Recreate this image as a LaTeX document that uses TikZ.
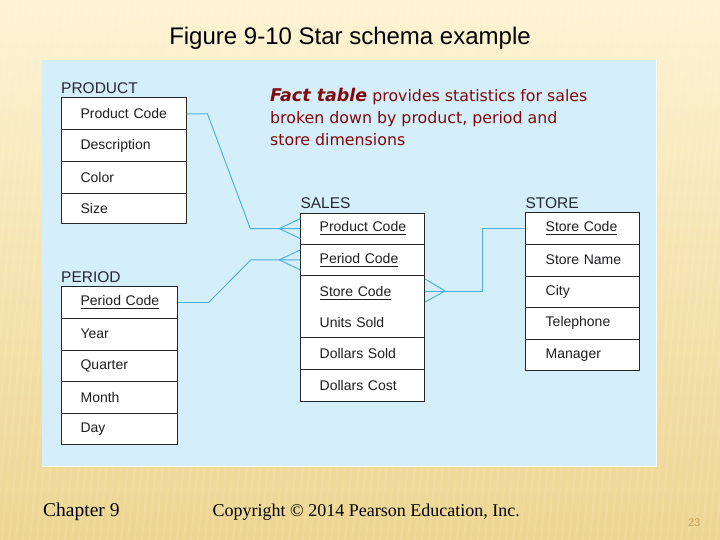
\documentclass[tikz,border=0pt]{standalone}
\usepackage{fontspec}
\setmainfont{Liberation Serif}
\setsansfont{Liberation Sans}
\newfontfamily\factfont{DejaVu Sans}
\usetikzlibrary{calc}
\definecolor{bgtop}{RGB}{253,244,212}
\definecolor{bgmid}{RGB}{245,228,176}
\definecolor{bgbot}{RGB}{237,214,146}
\definecolor{panelblue}{RGB}{212,238,250}
\definecolor{linkblue}{RGB}{78,175,212}
\definecolor{factred}{RGB}{130,8,12}
\definecolor{hdrgray}{RGB}{38,40,50}
\definecolor{celltext}{RGB}{30,30,34}
\definecolor{pagenum}{RGB}{196,156,80}
\newcommand\keyul[1]{\setbox0\hbox{#1}\rlap{\rule[-3.4pt]{\wd0}{0.9pt}}\box0}
\begin{document}
\begin{tikzpicture}[x=1pt,y=-1pt,
  tabcell/.style={draw=black!85, line width=0.8pt, fill=white, anchor=north west,
    inner sep=0pt, text width=#1, align=left,
    font=\sffamily\fontsize{14}{16}\selectfont, text=celltext},
  tabhead/.style={anchor=base west, inner sep=0pt,
    font=\sffamily\fontsize{15.5}{17}\selectfont, text=hdrgray},
  factline/.style={anchor=base west, inner sep=0pt,
    font=\factfont\fontsize{15.8}{18}\selectfont, text=factred},
  link/.style={draw=linkblue, line width=0.95pt},
  foot/.style={anchor=base west, inner sep=0pt, text=black}]
\useasboundingbox (0,0) rectangle (720,540);
% background
\shade[top color=bgtop, bottom color=bgbot, middle color=bgmid] (0,0) rectangle (720,540);
\begin{scope}
\clip (0,0) rectangle (720,540);
\foreach \i in {-40,-33,...,760} {
  \draw[white, opacity=0.10, line width=2pt] (\i,540) -- (\i+50,0);
}
\end{scope}
% panel
\fill[panelblue] (42,60) rectangle (657,467);
\draw[white, line width=1.2pt] (42,466.4) -- (656.4,466.4) -- (656.4,60);
% title
\node[anchor=base, inner sep=0pt, font=\sffamily\fontsize{24}{27}\selectfont, text=black] (title) at (350,45) {Figure 9-10 Star schema example};
% fact text
\node[factline] (fact1) at (270,102) {{\bfseries\itshape\fontsize{17.5}{18}\selectfont Fact table} provides statistics for sales};
\node[factline] (fact2) at (270,124) {broken down by product, period and};
\node[factline] (fact3) at (270,145.5) {store dimensions};
% PRODUCT
\node[tabhead] (prod) at (61,94) {PRODUCT};
\node[tabcell=125pt, minimum height=32pt] (pr1) at (60.7,97.5) {\hspace*{19.5pt}Product Code};
\node[tabcell=125pt, minimum height=32pt] (pr2) at (60.7,129.5) {\hspace*{19.5pt}Description};
\node[tabcell=125pt, minimum height=32pt] (pr3) at (60.7,161.5) {\hspace*{19.5pt}Color};
\node[tabcell=125pt, minimum height=30pt] (pr4) at (60.7,193.5) {\hspace*{19.5pt}Size};
% PERIOD
\node[tabhead] (per) at (61,282) {PERIOD};
\node[tabcell=116.6pt, minimum height=31.6pt] (pe1) at (60.7,286.3) {\hspace*{19.5pt}\keyul{Period Code}};
\node[tabcell=116.6pt, minimum height=31.6pt] (pe2) at (60.7,317.9) {\hspace*{19.5pt}Year};
\node[tabcell=116.6pt, minimum height=31.6pt] (pe3) at (60.7,349.5) {\hspace*{19.5pt}Quarter};
\node[tabcell=116.6pt, minimum height=31.6pt] (pe4) at (60.7,381.1) {\hspace*{19.5pt}Month};
\node[tabcell=116.6pt, minimum height=31.6pt] (pe5) at (60.7,412.7) {\hspace*{19.5pt}Day};
% SALES
\node[tabhead] (sales) at (300.3,208) {SALES};
\node[tabcell=124pt, minimum height=31pt] (sa1) at (300.3,212.7) {\hspace*{19pt}\keyul{Product Code}};
\node[tabcell=124pt, minimum height=31.6pt] (sa2) at (300.3,243.7) {\hspace*{19pt}\keyul{Period Code}};
\node[tabcell=124pt, minimum height=62pt, font=\sffamily\fontsize{14}{30.7}\selectfont] (sa3) at (300.3,275.3) {\hspace*{19pt}\keyul{Store Code}\\\hspace*{19pt}Units Sold};
\node[tabcell=124pt, minimum height=32pt] (sa4) at (300.3,337.3) {\hspace*{19pt}Dollars Sold};
\node[tabcell=124pt, minimum height=31.7pt] (sa5) at (300.3,369.3) {\hspace*{19pt}Dollars Cost};
% STORE
\node[tabhead] (store) at (525.3,208) {STORE};
\node[tabcell=113.4pt, minimum height=31.6pt] (st1) at (525.3,212.3) {\hspace*{20pt}\keyul{Store Code}};
\node[tabcell=113.4pt, minimum height=31.6pt] (st2) at (525.3,243.9) {\hspace*{20pt}Store Name};
\node[tabcell=113.4pt, minimum height=31.6pt] (st3) at (525.3,275.5) {\hspace*{20pt}City};
\node[tabcell=113.4pt, minimum height=31.6pt] (st4) at (525.3,307.1) {\hspace*{20pt}Telephone};
\node[tabcell=113.4pt, minimum height=31.6pt] (st5) at (525.3,338.7) {\hspace*{20pt}Manager};
% connectors
\draw[link] (pr1.east) -- ++(21,0) -- ($(sa1.west)+(-50,0)$) -- (sa1.west);
\coordinate (cfp) at ($(sa1.west)+(-21,0)$);
\draw[link] (cfp) -- ($(sa1.west)+(0,-10)$);
\draw[link] (cfp) -- ($(sa1.west)+(0,10)$);
\draw[link] (pe1.east) -- ++(30.5,0) -- ($(sa2.west)+(-49.5,0)$) -- (sa2.west);
\coordinate (cfe) at ($(sa2.west)+(-21,0)$);
\draw[link] (cfe) -- ($(sa2.west)+(0,-10)$);
\draw[link] (cfe) -- ($(sa2.west)+(0,10)$);
\coordinate (sak) at ($(sa3.north east)+(0,15.7)$);
\draw[link] (st1.west) -- ++(-43,0) |- (sak);
\coordinate (cfs) at ($(sak)+(20,0)$);
\draw[link] (cfs) -- ($(sak)+(0,-12)$);
\draw[link] (cfs) -- ($(sak)+(0,11)$);
% footer
\node[foot, font=\rmfamily\fontsize{19.5}{22}\selectfont] (chap) at (43,516) {Chapter 9};
\node[foot, font=\rmfamily\fontsize{18}{21}\selectfont] (copy) at (212.5,516) {Copyright © 2014 Pearson Education, Inc.};
\node[anchor=base east, inner sep=0pt, font=\sffamily\fontsize{11}{13}\selectfont, text=pagenum] (pg) at (700.5,526) {23};
\end{tikzpicture}
\end{document}
